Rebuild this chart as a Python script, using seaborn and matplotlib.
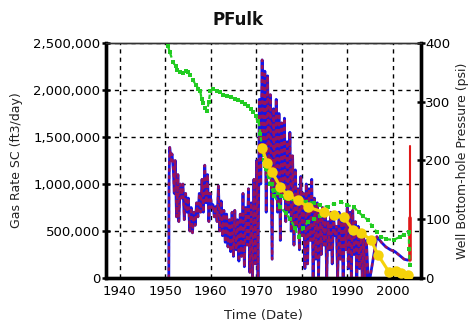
import matplotlib
matplotlib.use("Agg")
import matplotlib.pyplot as plt
import matplotlib.ticker as mticker
import numpy as np
import pandas as pd
import seaborn as sns

# ---- gas rate (ft3/day, thousands) ----
rate_years = [1950.8, 1950.85, 1951.0, 1951.3, 1951.5, 1951.8, 1952.0, 1952.2, 1952.5, 1952.8,
              1953.0, 1953.3, 1953.6, 1953.9, 1954.2, 1954.5, 1954.8, 1955.1, 1955.4, 1955.7,
              1956.0, 1956.3, 1956.6, 1956.9, 1957.2, 1957.5, 1957.8, 1958.1, 1958.4, 1958.7,
              1959.0, 1959.3, 1959.6, 1959.9, 1960.2, 1960.5, 1960.8, 1961.1, 1961.4, 1961.7,
              1962.0, 1962.3, 1962.6, 1962.9, 1963.2, 1963.5, 1963.8, 1964.1, 1964.4, 1964.7,
              1965.0, 1965.3, 1965.6, 1965.9, 1966.2, 1966.5, 1966.8, 1967.1, 1967.4, 1967.7,
              1968.0, 1968.3, 1968.6, 1968.9, 1969.2, 1969.5, 1969.8, 1970.1, 1970.4, 1970.7,
              1971.0, 1971.3, 1971.6, 1971.9, 1972.2, 1972.5, 1972.8, 1973.1, 1973.5, 1973.8,
              1974.1, 1974.4, 1974.7, 1975.0, 1975.3, 1975.6, 1975.9, 1976.2, 1976.5, 1976.8,
              1977.1, 1977.4, 1977.7, 1978.0, 1978.3, 1978.6, 1978.9, 1979.2, 1979.5, 1979.8,
              1980.1, 1980.4, 1980.7, 1981.0, 1981.3, 1981.6, 1981.9, 1982.2, 1982.5, 1982.8,
              1983.1, 1983.4, 1983.7, 1984.0, 1984.3, 1984.6, 1984.9, 1985.2, 1985.5, 1985.8,
              1986.1, 1986.4, 1986.7, 1987.0, 1987.3, 1987.6, 1987.9, 1988.2, 1988.5, 1988.8,
              1989.1, 1989.4, 1989.7, 1990.0, 1990.3, 1990.6, 1990.9, 1991.2, 1991.5, 1991.8,
              1992.1, 1992.4, 1992.7, 1993.0, 1993.3, 1993.6, 1993.9, 1994.2, 1994.6, 1995.0,
              1996.5, 1997.5, 1998.5, 1999.5, 2000.5, 2001.5, 2002.5, 2003.3, 2003.6]
rate_k = [0, 1000, 1390, 1250, 1320, 1150, 900, 1250, 650, 1100,
          600, 1000, 850, 1000, 620, 900, 700, 850, 500, 750,
          480, 700, 560, 800, 650, 900, 700, 1050, 700, 1200,
          800, 1100, 600, 900, 750, 780, 650, 760, 600, 980,
          500, 820, 450, 720, 380, 680, 330, 620, 280, 700,
          230, 720, 300, 620, 180, 680, 230, 900, 120, 750,
          350, 950, 60, 800, 0, 1050, 150, 1250, 0, 1900,
          1000, 2320, 1300, 2200, 700, 2150, 1100, 1950, 200, 1800,
          900, 1900, 700, 1750, 400, 1650, 900, 1700, 600, 1450,
          700, 1550, 500, 1300, 350, 1150, 550, 950, 300, 1080,
          450, 900, 100, 1000, 150, 950, 400, 1050, 0, 850,
          200, 800, 0, 700, 250, 750, 350, 650, 0, 600,
          300, 700, 150, 650, 450, 550, 0, 700, 200, 600,
          0, 650, 300, 750, 100, 700, 0, 720, 250, 600,
          0, 550, 100, 500, 0, 450, 0, 400, 0, 0,
          440, 380, 330, 300, 280, 240, 200, 190, 195]

# late rate spike
spike_years = [2003.7, 2003.7]
spike_k = [190, 1400]
spike_core_k = [190, 640]

# ---- bottom-hole pressure (psi) ----
p_years = [1950.6, 1951.0, 1951.7, 1952.3, 1952.6, 1953.2, 1953.9, 1954.5, 1955.0, 1955.5,
           1956.1, 1956.8, 1957.3, 1957.7, 1958.0, 1958.3, 1958.7, 1959.2, 1959.6, 1959.9,
           1960.5, 1961.4, 1962.0, 1962.8, 1963.6, 1964.5, 1965.3, 1966.0, 1966.8, 1967.5,
           1968.2, 1968.8, 1969.4, 1970.0, 1970.5, 1970.9, 1971.3, 1971.7, 1972.2, 1972.8,
           1973.4, 1974.0, 1974.7, 1975.5, 1976.3, 1977.0, 1978.0, 1979.7, 1981.0, 1982.6,
           1984.0, 1985.7, 1987.0, 1988.6, 1990.0, 1991.4, 1992.5, 1993.5, 1994.5, 1995.5,
           1996.5, 1997.4, 1998.5, 2000.3, 2001.5, 2002.5, 2003.5, 2003.6, 2003.7]
p_psi = [395, 385, 368, 360, 354, 351, 349, 352, 350, 345,
         337, 328, 322, 318, 305, 298, 290, 285, 300, 318,
         322, 318, 316, 312, 310, 308, 305, 303, 300, 296,
         292, 288, 282, 275, 268, 245, 220, 200, 185, 172,
         160, 150, 145, 140, 137, 135, 134, 133, 130, 128,
         124, 121, 126, 129, 124, 121, 112, 105, 99, 88,
         78, 70, 66, 65, 70, 74, 78, 50, 22]

p2_years = [1972.0, 1973.0, 1974.0, 1975.3, 1976.5, 1977.5, 1978.5, 1979.3, 1980.3, 1981.3,
            1982.6, 1984.0, 1985.5]
p2_psi = [190, 160, 140, 121, 110, 100, 85, 70, 85, 95,
          100, 105, 110]

# ---- modelled pressure (psi) ----
m_years = [1971.3, 1972.4, 1973.5, 1975.3, 1976.9, 1979.1, 1981.3, 1984.8, 1987.0, 1989.2,
           1991.2, 1993.0, 1995.2, 1996.7, 1999.2, 2000.7, 2001.8, 2003.3]
m_psi = [221, 196, 180, 155, 141, 133, 121, 112, 107, 104,
         82, 77, 65, 40, 10, 12, 8, 5]

rate_df = pd.DataFrame({"year": rate_years, "rate": np.array(rate_k) * 1000.0})
spike_df = pd.DataFrame({"year": spike_years, "rate": np.array(spike_k) * 1000.0})
core_df = pd.DataFrame({"year": spike_years, "rate": np.array(spike_core_k) * 1000.0})
p_df = pd.DataFrame({"year": p_years, "psi": p_psi})
p2_df = pd.DataFrame({"year": p2_years, "psi": p2_psi})
m_df = pd.DataFrame({"year": m_years, "psi": m_psi})

sns.set_style("white")
plt.rcParams["font.family"] = ["DejaVu Sans"]
plt.rcParams["axes.grid"] = True
plt.rcParams["grid.color"] = "black"
plt.rcParams["grid.linestyle"] = (0, (3, 3))
plt.rcParams["grid.linewidth"] = 1.0

fig = plt.figure(figsize=(4.7, 3.22), dpi=100)
ax = fig.add_axes([0.2255, 0.1366, 0.6702, 0.7300])
ax2 = ax.twinx()
ax2.grid(False)

# gas rate: blue trace with a red overlay
sns.lineplot(data=rate_df, x="year", y="rate", ax=ax, color="#1414e6", lw=2.0,
             sort=False, estimator=None, zorder=3)
sns.lineplot(data=rate_df, x="year", y="rate", ax=ax, color="#e01010", lw=1.7,
             sort=False, estimator=None, alpha=0.65, zorder=4)
ax.lines[-1].set_linestyle((0, (1.5, 1.5)))
sns.lineplot(data=spike_df, x="year", y="rate", ax=ax, color="#e01818", lw=1.5,
             sort=False, estimator=None, zorder=4)
sns.lineplot(data=core_df, x="year", y="rate", ax=ax, color="#e01818", lw=2.6,
             sort=False, estimator=None, zorder=4)

# pressures on the right axis
for df in (p_df, p2_df):
    sns.lineplot(data=df, x="year", y="psi", ax=ax2, color="#22cc22", lw=1.6,
                 sort=False, estimator=None, marker="s", markersize=3.2,
                 markeredgewidth=0, zorder=5)
    ax2.lines[-1].set_linestyle((0, (2, 1.5)))
sns.lineplot(data=m_df, x="year", y="psi", ax=ax2, color="#f5d20a", lw=2.2,
             sort=False, estimator=None, marker="o", markersize=7.5,
             markeredgewidth=0, zorder=6)

ax.set_xlim(1937, 2006.2)
ax.set_ylim(0, 2500000)
ax2.set_ylim(0, 400)
ax.set_xticks([1940, 1950, 1960, 1970, 1980, 1990, 2000])
ax.set_yticks([0, 500000, 1000000, 1500000, 2000000, 2500000])
ax.yaxis.set_major_formatter(mticker.FuncFormatter(lambda v, p: f"{int(v):,}"))
ax2.set_yticks([0, 100, 200, 300, 400])

for a in (ax, ax2):
    for side in ("left", "right", "bottom"):
        a.spines[side].set_linewidth(2.4)
        a.spines[side].set_color("black")
    a.spines["top"].set_linewidth(1.0)
    a.spines["top"].set_color("#333333")

ax.tick_params(axis="both", direction="inout", length=6, width=1.8,
               labelsize=9.5, colors="black", pad=1)
ax2.tick_params(axis="y", direction="inout", length=6, width=1.8,
                labelsize=9.5, colors="black", pad=0)
ax.tick_params(axis="x", pad=2)

# dashed grid from the left axis ticks, kept under the data
ax.grid(True, which="major", axis="both", color="black",
        linestyle=(0, (3, 3)), lw=1.0)
ax.set_axisbelow(True)
ax2.grid(False)

ax.set_xlabel("Time (Date)", fontsize=9.5, color="#222222", labelpad=8)
ax.set_ylabel("Gas Rate SC (ft3/day)", fontsize=9, color="#222222")
ax.yaxis.set_label_coords(-0.262, 0.5)
ax2.set_ylabel("Well Bottom-hole Pressure (psi)", fontsize=9, color="#222222",
               rotation=90)
ax2.yaxis.set_label_coords(1.112, 0.5)

fig.text(0.507, 0.937, "PFulk", ha="center", va="center", fontsize=12,
         fontweight="bold", color="#111111")

fig.savefig("out.png", dpi=100, facecolor="white")
